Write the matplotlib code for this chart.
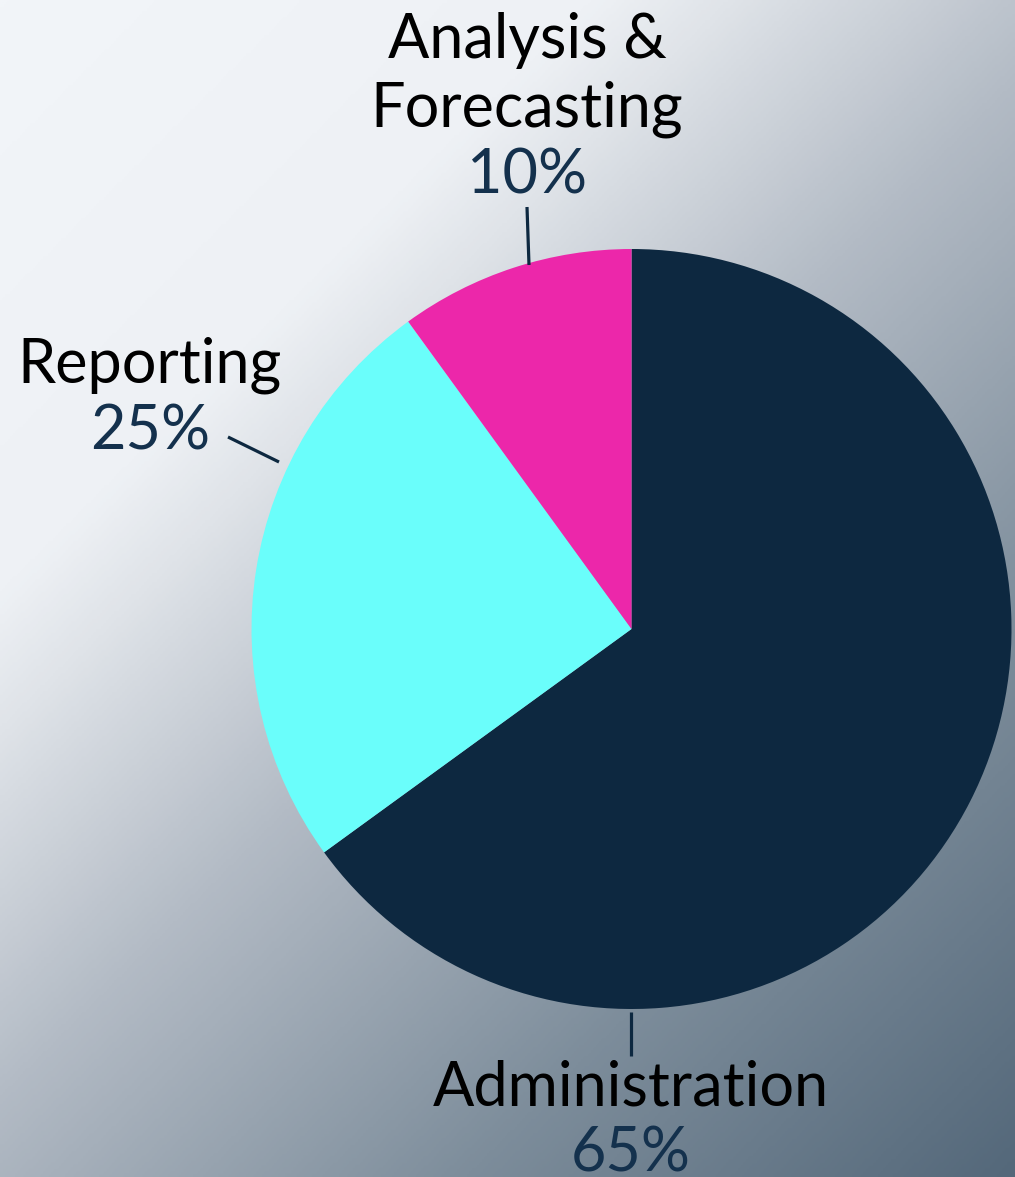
import numpy as np
import matplotlib
matplotlib.use("Agg")
import matplotlib.pyplot as plt
from matplotlib.colors import LinearSegmentedColormap

# datos del gráfico
categorias = ["Administration", "Reporting", "Analysis &\nForecasting"]
porcentajes = [65, 25, 10]
colores = ["#0D2840", "#6AFEFB", "#EC27AA"]

W, H = 1015, 1177
fig = plt.figure(figsize=(W / 100, H / 100), dpi=100)
ax = fig.add_axes([0, 0, 1, 1])

# fondo con degradado diagonal
fondo = LinearSegmentedColormap.from_list(
    "fondo",
    [(0.0, "#F2F5F9"), (0.27, "#EEF1F5"), (0.33, "#E0E4E9"),
     (0.5, "#B3BBC5"), (0.75, "#7D8D9B"), (1.0, "#54687A")])
xx, yy = np.meshgrid(np.linspace(0, 1, 400), np.linspace(0, 1, 400))
t = (xx * W + yy * H) / (W + H)
ax.imshow(t, cmap=fondo, extent=(0, W, 0, H), origin="upper",
          aspect="auto", zorder=0)

# tarta
cx, cy, r = 631.5, 629, 380
ax.pie(porcentajes, colors=colores, startangle=90, counterclock=False,
       center=(cx, H - cy), radius=r, wedgeprops=dict(linewidth=0),
       frame=True)

# etiquetas y líneas guía (coordenadas en píxeles desde arriba)
etiquetas = [
    # y nombre (última línea), y porcentaje, x, línea
    (1105, 1172, 631, [(631, 1012), (631, 1056)]),
    (382, 450, 150, [(228, 437), (279, 462)]),
    (126, 193, 527, [(527, 207), (529, 265)]),
]
navy = "#0D2840"
for nombre, (yb, yp, x, linea), pct in zip(categorias, etiquetas, porcentajes):
    lineas = nombre.split("\n")
    for i, txt in enumerate(lineas):
        y = yb - 68 * (len(lineas) - 1 - i)
        ax.text(x, H - y, txt, ha="center", va="baseline", fontsize=44,
                family="Lato", color="black")
    ax.text(x, H - yp, f"{pct}%", ha="center", va="baseline", fontsize=44,
            family="Lato", color="#14314D")
    (x0, y0), (x1, y1) = linea
    ax.plot([x0, x1], [H - y0, H - y1], color=navy, lw=2.3,
            solid_capstyle="butt", zorder=5)

ax.set_xlim(0, W)
ax.set_ylim(0, H)
ax.set_aspect("auto")
ax.axis("off")

fig.savefig("out.png", dpi=100)
